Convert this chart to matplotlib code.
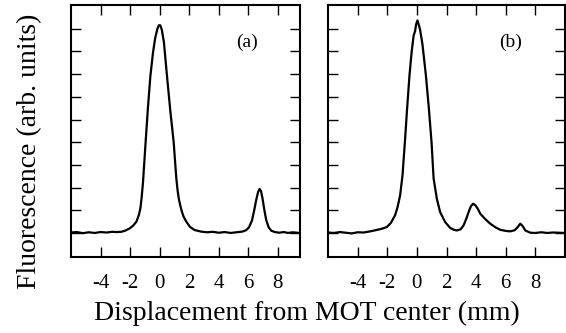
import numpy as np
import matplotlib.pyplot as plt

plt.rcParams["font.family"] = ["Liberation Serif", "DejaVu Serif"]
plt.rcParams["axes.unicode_minus"] = False

# panel (a): fluorescence profile
xa = [-6.0, -5.6, -5.2, -4.8, -4.4, -4.0, -3.6, -3.2, -2.9, -2.6, -2.3, -2.03, -1.8,
      -1.57, -1.4, -1.3, -1.22, -1.13, -1.05, -0.95, -0.8, -0.63, -0.45, -0.3, -0.15,
      -0.05, 0.05, 0.15, 0.29, 0.5, 0.72, 0.95, 1.05, 1.13, 1.22, 1.3, 1.4, 1.5, 1.62,
      1.8, 2.05, 2.36, 2.8, 3.2, 3.6, 4.0, 4.4, 4.8, 5.2, 5.6, 5.85, 6.05, 6.25, 6.4,
      6.55, 6.67, 6.76, 6.86, 6.97, 7.09, 7.22, 7.38, 7.55, 7.8, 8.1, 8.4, 8.7, 9.0,
      9.3, 9.5]
ya = [0.02, 0.04, -0.01, 0.03, 0.0, 0.04, 0.02, 0.05, 0.04, 0.05, 0.11, 0.2, 0.32,
      0.5, 0.8, 1.1, 1.55, 2.2, 3.0, 4.0, 5.45, 6.9, 7.95, 8.6, 9.0,
      9.16, 9.15, 8.95, 8.4, 6.9, 5.4, 4.0, 3.1, 2.4, 1.85, 1.5, 1.2, 0.95, 0.72,
      0.5, 0.27, 0.13, 0.06, 0.03, 0.05, 0.01, 0.04, 0.0, 0.03, 0.06, 0.12, 0.25, 0.55,
      1.0, 1.5, 1.82, 1.94, 1.85, 1.5, 1.0, 0.55, 0.25, 0.1, 0.04, 0.01, 0.04, 0.0,
      0.03, 0.01, 0.0]

# panel (b)
xb = [-6.0, -5.6, -5.2, -4.8, -4.4, -4.0, -3.6, -3.15, -2.8, -2.4, -2.03, -1.75,
      -1.47, -1.3, -1.13, -0.97, -0.81, -0.66, -0.5, -0.35, -0.22, -0.12, -0.05, 0.04,
      0.12, 0.22, 0.38, 0.61, 0.81, 0.99, 1.13, 1.35, 1.57, 1.91, 2.25, 2.5, 2.7, 2.95,
      3.15, 3.35, 3.49, 3.65, 3.8, 3.95, 4.1, 4.28, 4.6, 4.95, 5.3, 5.63, 6.0, 6.3,
      6.6, 6.8, 6.98, 7.15, 7.32, 7.66, 8.0, 8.4, 8.8, 9.2, 9.6, 10.0]
yb = [0.02, 0.0, 0.04, 0.01, -0.02, 0.03, 0.02, 0.07, 0.12, 0.18, 0.26, 0.45,
      0.78, 1.15, 1.66, 2.54, 4.0, 5.48, 6.94, 8.0, 8.7, 8.9, 9.2, 9.37,
      9.2, 8.95, 8.3, 6.94, 5.48, 4.0, 2.4, 1.5, 0.92, 0.48, 0.22, 0.14, 0.11, 0.16,
      0.33, 0.65, 0.92, 1.18, 1.29, 1.22, 1.08, 0.85, 0.62, 0.41, 0.25, 0.14, 0.09, 0.07,
      0.12, 0.25, 0.41, 0.3, 0.11, 0.01, 0.0, 0.03, 0.0, 0.02, 0.01, 0.0]

xticks = [-4, -2, 0, 2, 4, 6, 8]
yticks = list(range(10))

fig = plt.figure(figsize=(5.66, 3.33), dpi=100)
ax_a = fig.add_axes([71 / 566, 1 - 257 / 333, 229 / 566, 252 / 333])
ax_b = fig.add_axes([328 / 566, 1 - 257 / 333, 237 / 566, 252 / 333])

panels = [(ax_a, xa, ya, (-6, 9.5), "(a)", 5.9), (ax_b, xb, yb, (-6, 10), "(b)", 6.3)]
for ax, x, y, xlim, tag, tx in panels:
    ax.plot(x, y, color="black", lw=1.6)
    ax.set_xlim(*xlim)
    ax.set_ylim(-1.06, 10.05)
    ax.set_xticks(xticks)
    ax.set_xticklabels([str(t) for t in xticks])
    ax.set_yticks(yticks)
    ax.set_yticklabels([])
    ax.tick_params(direction="in", top=True, right=True, length=7, width=1.0,
                   labelsize=15, pad=12)
    for s in ax.spines.values():
        s.set_linewidth(1.5)
    ax.text(tx, 8.4, tag, fontsize=14, ha="center", va="center")

fig.text(30 / 566, 1 - 151 / 333, "Fluorescence (arb. units)", rotation=90,
         fontsize=20, ha="center", va="center")
fig.text(307 / 566, 1 - 313 / 333, "Displacement from MOT center (mm)",
         fontsize=20, ha="center", va="center")

fig.savefig("out.png", dpi=100)
